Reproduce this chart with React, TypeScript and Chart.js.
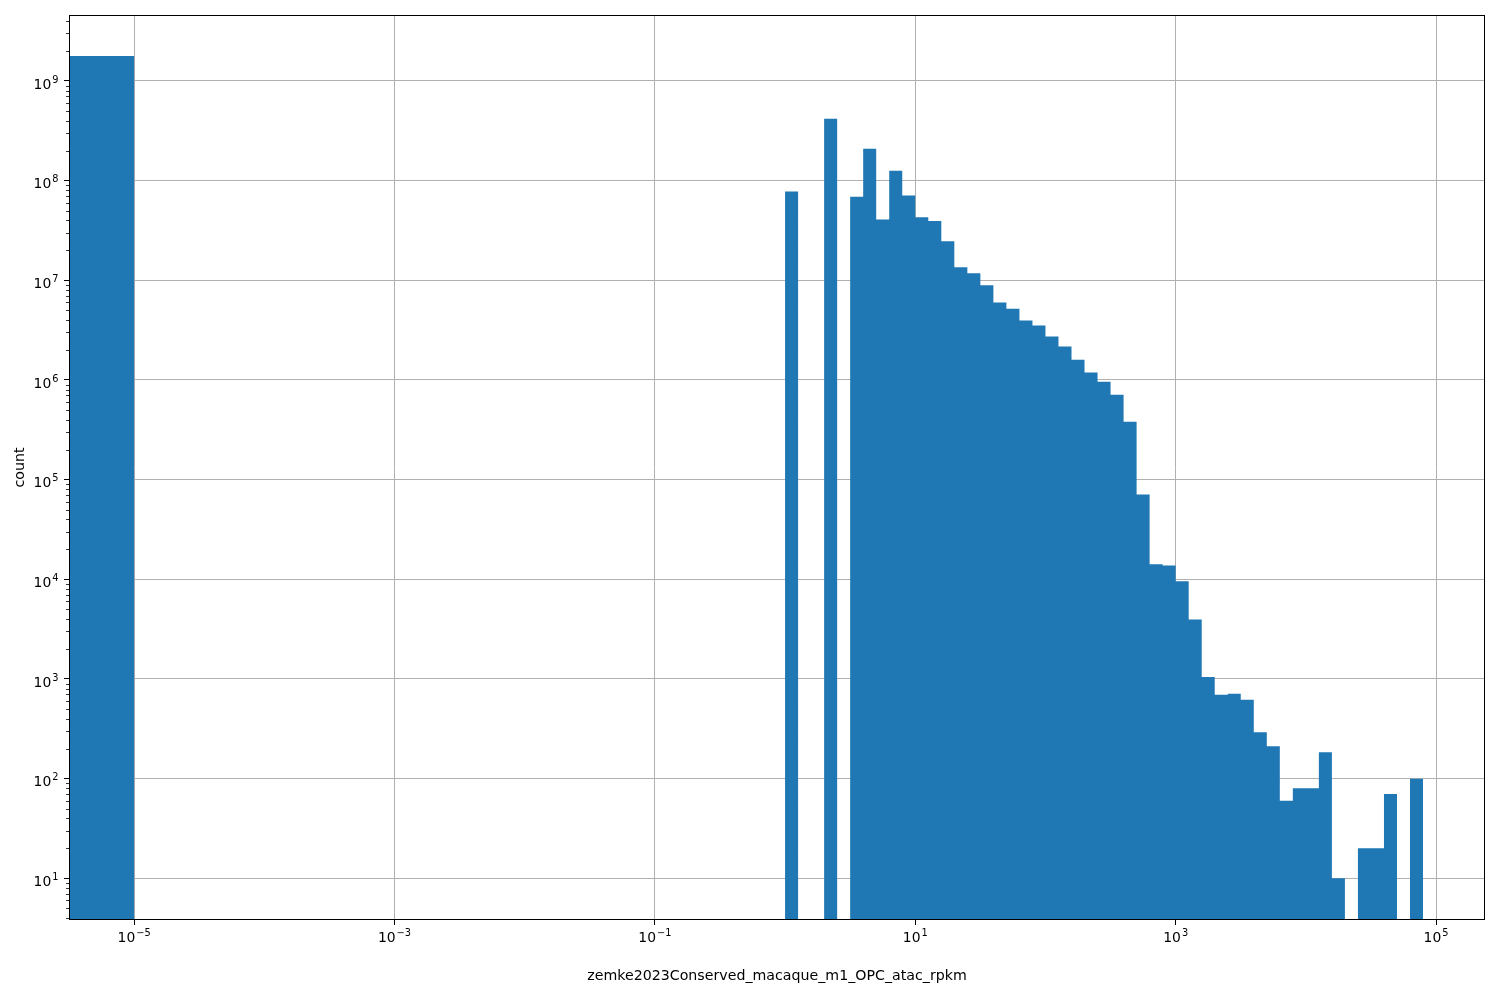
import React, { useEffect, useRef } from "react";
import { Chart, registerables } from "chart.js";

Chart.register(...registerables);

// Left edges of histogram bins, as log10(x). The first bin starts at 0 (shown as 1e-7, off-axis).
const binLeftExp = [
  -7, -5,
  0.0, 0.1, 0.2, 0.3, 0.4, 0.5, 0.6, 0.7, 0.8, 0.9,
  1.0, 1.1, 1.2, 1.3, 1.4, 1.5, 1.6, 1.7, 1.8, 1.9,
  2.0, 2.1, 2.2, 2.3, 2.4, 2.5, 2.6, 2.7, 2.8, 2.9,
  3.0, 3.1, 3.2, 3.3, 3.4, 3.5, 3.6, 3.7, 3.8, 3.9,
  4.0, 4.1, 4.2, 4.3, 4.4, 4.5, 4.6, 4.7, 4.8,
];
const lastBinRightExp = 4.9;

// Counts per bin (0 = empty bin)
const counts = [
  1.78e9, 0,
  7.8e7, 0, 0, 4.17e8, 0, 6.9e7, 2.09e8, 4.07e7, 1.26e8, 7.1e7,
  4.3e7, 3.93e7, 2.47e7, 1.35e7, 1.18e7, 8.9e6, 6.0e6, 5.2e6, 3.95e6, 3.52e6,
  2.73e6, 2.17e6, 1.6e6, 1.19e6, 9.6e5, 7.1e5, 3.8e5, 7.1e4, 1.42e4, 1.38e4,
  9.55e3, 3.96e3, 1.05e3, 695, 710, 620, 293, 212, 60, 80,
  80, 184, 10, 0, 20, 20, 70, 0, 100,
];

const xTickExps = [-5, -3, -1, 1, 3, 5];
const yTickExps = [1, 2, 3, 4, 5, 6, 7, 8, 9];
const xTitle = "zemke2023Conserved_macaque_m1_OPC_atac_rpkm";
const yTitle = "count";

const X_MIN_EXP = -5.5;
const X_MAX_EXP = 5.376;
const Y_MIN_EXP = 0.582;
const Y_MAX_EXP = 9.662;
const FLOOR = 1; // below the y-axis minimum, used for empty bins

const FAMILY = "'DejaVu Sans', sans-serif";
const FONT = { family: FAMILY, size: 13.9 };
const TITLE_FONT = { family: FAMILY, size: 14.2 };
const BASE_PX = 13.9;
const SUP_PX = 9.8;

const expText = (e: number) => (e < 0 ? "\u2212" + String(-e) : String(e));

// Draws the "10^n" tick labels with a raised, smaller exponent like matplotlib mathtext.
function drawPow(ctx: CanvasRenderingContext2D, e: number, x: number, baseY: number, align: "center" | "right") {
  ctx.font = `${BASE_PX}px ${FAMILY}`;
  const w1 = ctx.measureText("10").width;
  ctx.font = `${SUP_PX}px ${FAMILY}`;
  const sup = expText(e);
  const w2 = ctx.measureText(sup).width + 1;
  const total = w1 + w2;
  const start = align === "center" ? x - total / 2 : x - total;
  ctx.textAlign = "left";
  ctx.textBaseline = "alphabetic";
  ctx.fillStyle = "#000";
  ctx.font = `${BASE_PX}px ${FAMILY}`;
  ctx.fillText("10", start, baseY);
  ctx.font = `${SUP_PX}px ${FAMILY}`;
  ctx.fillText(sup, start + w1 + 1, baseY - 6);
}

const framePlugin = {
  id: "frameAndMinor",
  afterDraw(chart: any) {
    const { ctx, chartArea: a, scales } = chart;
    ctx.save();
    // minor y ticks
    const y = scales.y;
    ctx.strokeStyle = "#000";
    ctx.lineWidth = 0.8;
    ctx.beginPath();
    for (let e = 0; e <= 9; e++) {
      for (let m = 2; m <= 9; m++) {
        const v = m * Math.pow(10, e);
        if (v < y.min || v > y.max) continue;
        const py = Math.round(y.getPixelForValue(v)) + 0.5;
        ctx.moveTo(a.left - 3, py);
        ctx.lineTo(a.left, py);
      }
    }
    ctx.stroke();
    // frame
    ctx.lineWidth = 1;
    ctx.strokeStyle = "#000";
    ctx.strokeRect(
      Math.round(a.left) + 0.5,
      Math.round(a.top) + 0.5,
      Math.round(a.right) - Math.round(a.left) - 1,
      Math.round(a.bottom) - Math.round(a.top) - 1
    );
    // tick labels
    const x = scales.x;
    for (const t of x.ticks) {
      const e = Math.round(Math.log10(t.value));
      drawPow(ctx, e, x.getPixelForValue(t.value), a.bottom + 22, "center");
    }
    for (const t of y.ticks) {
      const e = Math.round(Math.log10(t.value));
      drawPow(ctx, e, a.left - 10.5, y.getPixelForValue(t.value) + 7.7, "right");
    }
    ctx.restore();
  },
};

export default function App() {
  const canvasRef = useRef<HTMLCanvasElement | null>(null);

  useEffect(() => {
    document.body.style.margin = "0";
    const canvas = canvasRef.current;
    if (!canvas) return;

    const points = binLeftExp.map((e, i) => ({
      x: Math.pow(10, e),
      y: counts[i] > 0 ? counts[i] : FLOOR,
    }));
    points.push({ x: Math.pow(10, lastBinRightExp), y: FLOOR });

    const chart = new Chart(canvas, {
      type: "line",
      data: {
        datasets: [
          {
            data: points,
            stepped: "before",
            fill: "start",
            backgroundColor: "#1f77b4",
            borderColor: "#1f77b4",
            borderWidth: 0,
            pointRadius: 0,
            tension: 0,
          },
        ],
      },
      options: {
        animation: false,
        responsive: false,
        maintainAspectRatio: false,
        events: [],
        layout: { padding: { left: 0, top: 15, right: 15, bottom: 0 } },
        plugins: { legend: { display: false }, tooltip: { enabled: false } },
        scales: {
          x: {
            type: "logarithmic",
            position: "bottom",
            min: Math.pow(10, X_MIN_EXP),
            max: Math.pow(10, X_MAX_EXP),
            z: 1,
            afterBuildTicks: (scale: any) => {
              scale.ticks = xTickExps.map((e) => ({ value: Math.pow(10, e), major: true }));
            },
            afterFit: (scale: any) => {
              scale.height = 80;
            },
            grid: {
              color: "#b0b0b0",
              lineWidth: 1,
              tickColor: "#000",
              tickLength: 5,
              tickWidth: 1,
            },
            border: { display: false },
            ticks: {
              autoSkip: false,
              maxRotation: 0,
              color: "rgba(0,0,0,0)",
              font: FONT,
              padding: 4,
              callback: (v: any) => "10" + expText(Math.round(Math.log10(Number(v)))),
            },
            title: {
              display: true,
              text: xTitle,
              color: "#000",
              font: TITLE_FONT,
              padding: { top: 0, bottom: 15 },
            },
          },
          y: {
            type: "logarithmic",
            position: "left",
            min: Math.pow(10, Y_MIN_EXP),
            max: Math.pow(10, Y_MAX_EXP),
            z: 1,
            afterBuildTicks: (scale: any) => {
              scale.ticks = yTickExps.map((e) => ({ value: Math.pow(10, e), major: true }));
            },
            afterFit: (scale: any) => {
              scale.width = 69;
            },
            grid: {
              color: "#b0b0b0",
              lineWidth: 1,
              tickColor: "#000",
              tickLength: 5,
              tickWidth: 1,
            },
            border: { display: false },
            ticks: {
              autoSkip: false,
              color: "rgba(0,0,0,0)",
              font: FONT,
              padding: 4,
              callback: (v: any) => "10" + expText(Math.round(Math.log10(Number(v)))),
            },
            title: {
              display: true,
              text: yTitle,
              color: "#000",
              font: TITLE_FONT,
              padding: { top: 12, bottom: 0 },
            },
          },
        },
      },
      plugins: [framePlugin],
    } as any);

    return () => {
      chart.destroy();
    };
  }, []);

  return (
    <div style={{ width: 1500, height: 1000, background: "#fff" }}>
      <canvas ref={canvasRef} width={1500} height={1000} style={{ display: "block" }} />
    </div>
  );
}
